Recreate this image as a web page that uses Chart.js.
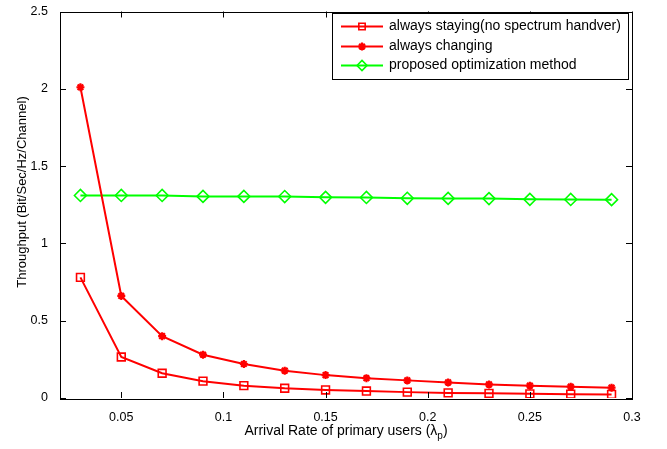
<!DOCTYPE html>
<html>
<head>
<meta charset="utf-8">
<script src="https://cdn.jsdelivr.net/npm/chart.js@4.4.1/dist/chart.umd.min.js"></script>
<style>
    html, body { margin: 0; padding: 0; background: #fff; }
    #wrap { width: 667px; height: 449px; }
</style>
</head>
<body>
<div id="wrap"><canvas id="throughputChart"></canvas></div>
<script>
// values
const arrivalRate = [0.03, 0.05, 0.07, 0.09, 0.11, 0.13, 0.15, 0.17, 0.19, 0.21, 0.23, 0.25, 0.27, 0.29];
const alwaysStaying = [0.78, 0.265, 0.16, 0.109, 0.08, 0.063, 0.052, 0.045, 0.038, 0.033, 0.03, 0.027, 0.025, 0.023];
const alwaysChanging = [2.01, 0.66, 0.40, 0.28, 0.22, 0.177, 0.148, 0.128, 0.114, 0.101, 0.088, 0.08, 0.073, 0.067];
const proposedMethod = [1.31, 1.31, 1.31, 1.304, 1.304, 1.303, 1.298, 1.297, 1.292, 1.291, 1.29, 1.285, 1.284, 1.283];
const xTicks = [0.05, 0.1, 0.15, 0.2, 0.25, 0.3];
const yTicks = [0, 0.5, 1, 1.5, 2, 2.5];

const FONT = 'Arial, "Liberation Sans", Helvetica, sans-serif';
const pairs = ys => arrivalRate.map((x, i) => ({ x, y: ys[i] }));

// MATLAB style frame: box, inward ticks, legend inside, axis labels
const matlabFrame = {
    id: 'matlabFrame',
    afterDraw(chart) {
        const { ctx, chartArea: a, scales: { x, y } } = chart;
        ctx.save();
        ctx.strokeStyle = '#000';
        ctx.lineWidth = 1;
        ctx.strokeRect(Math.round(a.left) + 0.5, Math.round(a.top) + 0.5, Math.round(a.right - a.left), Math.round(a.bottom - a.top));
        const tl = 6;
        ctx.beginPath();
        xTicks.forEach(v => {
            const px = Math.round(x.getPixelForValue(v)) + 0.5;
            ctx.moveTo(px, a.bottom); ctx.lineTo(px, a.bottom - tl);
            ctx.moveTo(px, a.top); ctx.lineTo(px, a.top + tl);
        });
        yTicks.forEach(v => {
            const py = Math.round(y.getPixelForValue(v)) + 0.5;
            ctx.moveTo(a.left, py); ctx.lineTo(a.left + tl, py);
            ctx.moveTo(a.right, py); ctx.lineTo(a.right - tl, py);
        });
        ctx.stroke();

        ctx.fillStyle = '#000';

        // y axis title
        ctx.save();
        ctx.translate(22, 192);
        ctx.rotate(-Math.PI / 2);
        ctx.font = '13px ' + FONT;
        ctx.textAlign = 'center';
        ctx.textBaseline = 'middle';
        ctx.fillText('Throughput (Bit/Sec/Hz/Channel)', 0, 0);
        ctx.restore();

        // x axis title with subscript
        ctx.textBaseline = 'alphabetic';
        ctx.textAlign = 'left';
        const main = 'Arrival Rate of primary users (\u03bb';
        ctx.font = '10px ' + FONT;
        const subW = ctx.measureText('p').width;
        ctx.font = '14px ' + FONT;
        const total = ctx.measureText(main).width + subW + ctx.measureText(')').width;
        let tx = 346 - total / 2;
        const ty = 435;
        ctx.fillText(main, tx, ty);
        tx += ctx.measureText(main).width;
        ctx.font = '10px ' + FONT;
        ctx.fillText('p', tx, ty + 4);
        tx += subW;
        ctx.font = '14px ' + FONT;
        ctx.fillText(')', tx, ty);

        // legend
        const lx = 332, ly = 13, lw = 296, lh = 66;
        ctx.fillStyle = '#fff';
        ctx.fillRect(lx, ly, lw, lh);
        ctx.strokeRect(lx + 0.5, ly + 0.5, lw, lh);
        const rows = [26.5, 46.5, 65.5];
        const legendRadius = [4.5, 4, 5];
        chart.data.datasets.forEach((ds, i) => {
            const ry = rows[i];
            ctx.strokeStyle = ds.borderColor;
            ctx.lineWidth = ds.borderWidth;
            ctx.beginPath();
            ctx.moveTo(lx + 9, ry); ctx.lineTo(lx + 51, ry);
            ctx.stroke();
            ctx.fillStyle = 'rgba(0,0,0,0)';
            ctx.lineWidth = ds.pointBorderWidth;
            Chart.helpers.drawPoint(ctx, { pointStyle: ds.pointStyle, radius: legendRadius[i], rotation: 0, borderWidth: ds.pointBorderWidth }, lx + 30, ry);
            ctx.fillStyle = '#000';
            ctx.font = '14px ' + FONT;
            ctx.textBaseline = 'middle';
            ctx.fillText(ds.label, lx + 57, ry);
        });
        ctx.restore();
    }
};

new Chart(document.getElementById('throughputChart'), {
    type: 'line',
    data: {
        datasets: [
            { label: 'always staying(no spectrum handver)', data: pairs(alwaysStaying), borderColor: '#ff0000', borderWidth: 2,
              pointStyle: 'rect', pointRadius: 5.5, pointBorderWidth: 1.6, pointBackgroundColor: 'rgba(0,0,0,0)', pointBorderColor: '#ff0000' },
            { label: 'always changing', data: pairs(alwaysChanging), borderColor: '#ff0000', borderWidth: 2,
              pointStyle: 'star', pointRadius: 4, pointBorderWidth: 2.2, pointBackgroundColor: '#ff0000', pointBorderColor: '#ff0000' },
            { label: 'proposed optimization method', data: pairs(proposedMethod), borderColor: '#00ff00', borderWidth: 2,
              pointStyle: 'rectRot', pointRadius: 6, pointBorderWidth: 1.6, pointBackgroundColor: 'rgba(0,0,0,0)', pointBorderColor: '#00ff00' }
        ]
    },
    options: {
        responsive: true,
        maintainAspectRatio: false,
        animation: false,
        layout: { padding: { top: 7, right: 35, left: 0, bottom: 0 } },
        plugins: { legend: { display: false }, tooltip: { enabled: false } },
        elements: { line: { tension: 0 } },
        scales: {
            x: {
                type: 'linear', min: 0.02, max: 0.3,
                afterBuildTicks: s => { s.ticks = xTicks.map(v => ({ value: v })); },
                afterFit: s => { s.height = 51; },
                grid: { display: false }, border: { display: false },
                ticks: { color: '#000', font: { family: FONT, size: 12.5 }, padding: 4, maxRotation: 0, callback: v => String(v) }
            },
            y: {
                min: 0, max: 2.5,
                afterBuildTicks: s => { s.ticks = yTicks.map(v => ({ value: v })); },
                afterFit: s => { s.width = 60; },
                grid: { display: false }, border: { display: false },
                ticks: { color: '#000', font: { family: FONT, size: 12.5 }, padding: 4, callback: v => String(v) }
            }
        }
    },
    plugins: [matlabFrame]
});
</script>
</body>
</html>
